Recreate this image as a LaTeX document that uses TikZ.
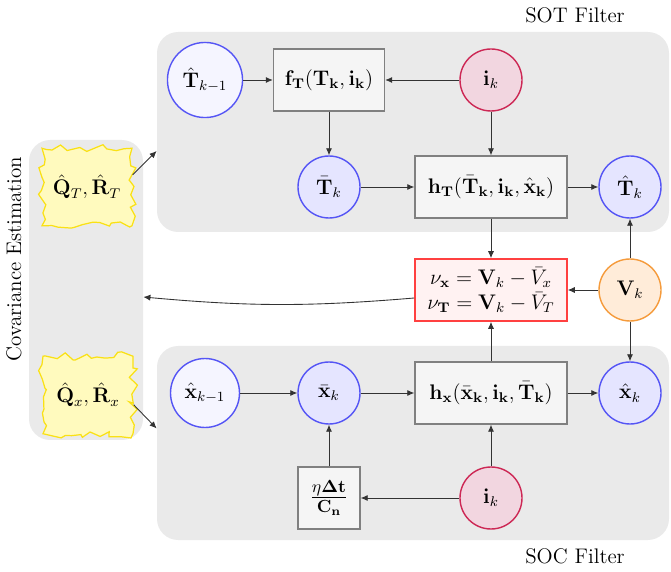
\documentclass[tikz,border=0pt]{standalone}
\usepackage{xcolor}
\usepackage{tikz}
\usetikzlibrary{arrows.meta, positioning, decorations.pathmorphing}
\usepackage{amsmath}

\definecolor{stateblue}{RGB}{85,85,245}
\definecolor{inred}{RGB}{205,40,85}
\definecolor{inpink}{RGB}{242,214,224}
\definecolor{vorange}{RGB}{245,155,60}
\definecolor{panelgray}{RGB}{234,234,234}
\definecolor{noiseedge}{RGB}{250,225,20}
\definecolor{noisefill}{RGB}{255,250,190}

\begin{document}
\begin{tikzpicture}[
        font=\large,
        on grid,
        panel/.style={fill=panelgray, rounded corners=12pt, inner sep=0pt},
        state/.style={circle, draw=stateblue, line width=0.8pt, fill=blue!10, minimum size=1.24cm, inner sep=5pt},
        prior/.style={state, fill=blue!4},
        input/.style={circle, draw=inred, line width=0.8pt, fill=inpink, minimum size=1.24cm, inner sep=3pt},
        meas/.style={circle, draw=vorange, line width=0.8pt, fill=orange!15, minimum size=1.24cm, inner sep=3pt},
        func/.style={draw=gray, line width=0.8pt, fill=gray!8, minimum height=1.24cm, align=center},
        resid/.style={draw=red!75, line width=0.9pt, fill=red!5, minimum width=3.04cm, minimum height=1.24cm, align=center, inner sep=2pt},
        noise/.style={draw=noiseedge, fill=noisefill, line width=0.7pt, minimum width=1.8cm, minimum height=1.55cm,
            decorate, decoration={random steps, segment length=4pt, amplitude=2.6pt}},
        arr/.style={-{Latex[length=4pt, width=3.5pt]}, black!80, line width=0.5pt}
    ]
        \pgfmathsetseed{11}
        \useasboundingbox (0,0) rectangle (13.42,-11.44);

        % panels
        \node[panel, minimum width=10.24cm, minimum height=4cm] (sot) at (8.26,-2.64) {};
        \node[panel, minimum width=10.24cm, minimum height=3.88cm] (soc) at (8.26,-8.86) {};
        \node[panel, minimum width=2.28cm, minimum height=6cm] (cov) at (1.72,-5.80) {};
        \node (sotlabel) at (11.5,-0.30) {SOT Filter};
        \node (soclabel) at (11.5,-11.12) {SOC Filter};
        \node[rotate=90] (covlabel) at (0.28,-5.18) {Covariance Estimation};
        \coordinate (sotin) at ([yshift=-0.38cm]sot.west);
        \coordinate (socin) at ([yshift=0.29cm]soc.west);

        % SOT filter
        \node[prior] (Tprev) at (4.10,-1.60) {$\hat{\mathbf{T}}_{k-1}$};
        \node[func, minimum width=2.22cm, right=2.48cm of Tprev] (fT) {$\mathbf{f_T}(\mathbf{T_k},\mathbf{i_k})$};
        \node[input, right=3.24cm of fT] (iT) {$\mathbf{i}_k$};
        \node[state, below=2.14cm of fT] (Tbar) {$\bar{\mathbf{T}}_k$};
        \node[func, minimum width=3.04cm, below=2.14cm of iT] (hT) {$\mathbf{h_T}(\bar{\mathbf{T}}_{\mathbf{k}},\mathbf{i_k},\hat{\mathbf{x}}_{\mathbf{k}})$};
        \node[state, right=2.78cm of hT] (That) {$\hat{\mathbf{T}}_k$};

        % innovation
        \node[resid, below=2.06cm of hT] (res) {$\nu_{\mathbf{x}} = \mathbf{V}_k - \bar{V}_x$\\$\nu_{\mathbf{T}} = \mathbf{V}_k - \bar{V}_T$};
        \node[meas, right=2.78cm of res] (Vk) {$\mathbf{V}_k$};

        % SOC filter
        \node[func, minimum width=3.04cm, below=2.06cm of res] (hx) {$\mathbf{h_x}(\bar{\mathbf{x}}_{\mathbf{k}},\mathbf{i_k},\bar{\mathbf{T}}_{\mathbf{k}})$};
        \node[state, left=3.24cm of hx] (xbar) {$\bar{\mathbf{x}}_k$};
        \node[prior, left=2.48cm of xbar] (xprev) {$\hat{\mathbf{x}}_{k-1}$};
        \node[state, right=2.78cm of hx] (xhat) {$\hat{\mathbf{x}}_k$};
        \node[input, below=2.10cm of hx] (ix) {$\mathbf{i}_k$};
        \node[func, font=\Large, minimum width=1.24cm, inner sep=1pt, below=2.10cm of xbar] (gain) {$\frac{\eta\mathbf{\Delta}\mathbf{t}}{\mathbf{C_n}}$};

        % covariance estimation
        \node[noise] (QT) at (1.74,-3.74) {$\hat{\mathbf{Q}}_T,\hat{\mathbf{R}}_T$};
        \node[noise] (QX) at (1.76,-7.90) {$\hat{\mathbf{Q}}_x,\hat{\mathbf{R}}_x$};

        % connections
        \draw[arr] (Tprev) -- (fT);
        \draw[arr] (iT) -- (fT);
        \draw[arr] (fT) -- (Tbar);
        \draw[arr] (Tbar) -- (hT);
        \draw[arr] (iT) -- (hT);
        \draw[arr] (hT) -- (That);
        \draw[arr] (hT) -- (res);
        \draw[arr] (Vk) -- (That);
        \draw[arr] (Vk) -- (res);
        \draw[arr] (Vk) -- (xhat);
        \draw[arr] (hx) -- (res);
        \draw[arr] (xprev) -- (xbar);
        \draw[arr] (xbar) -- (hx);
        \draw[arr] (hx) -- (xhat);
        \draw[arr] (gain) -- (xbar);
        \draw[arr] (ix) -- (gain);
        \draw[arr] (ix) -- (hx);
        \draw[arr] ([yshift=-0.16cm]res.west) to[bend left=5] ([yshift=-0.14cm]cov.east);
        \draw[arr] (QT.15) -- (sotin);
        \draw[arr] (QX.-12) -- (socin);
    \end{tikzpicture}
\end{document}
